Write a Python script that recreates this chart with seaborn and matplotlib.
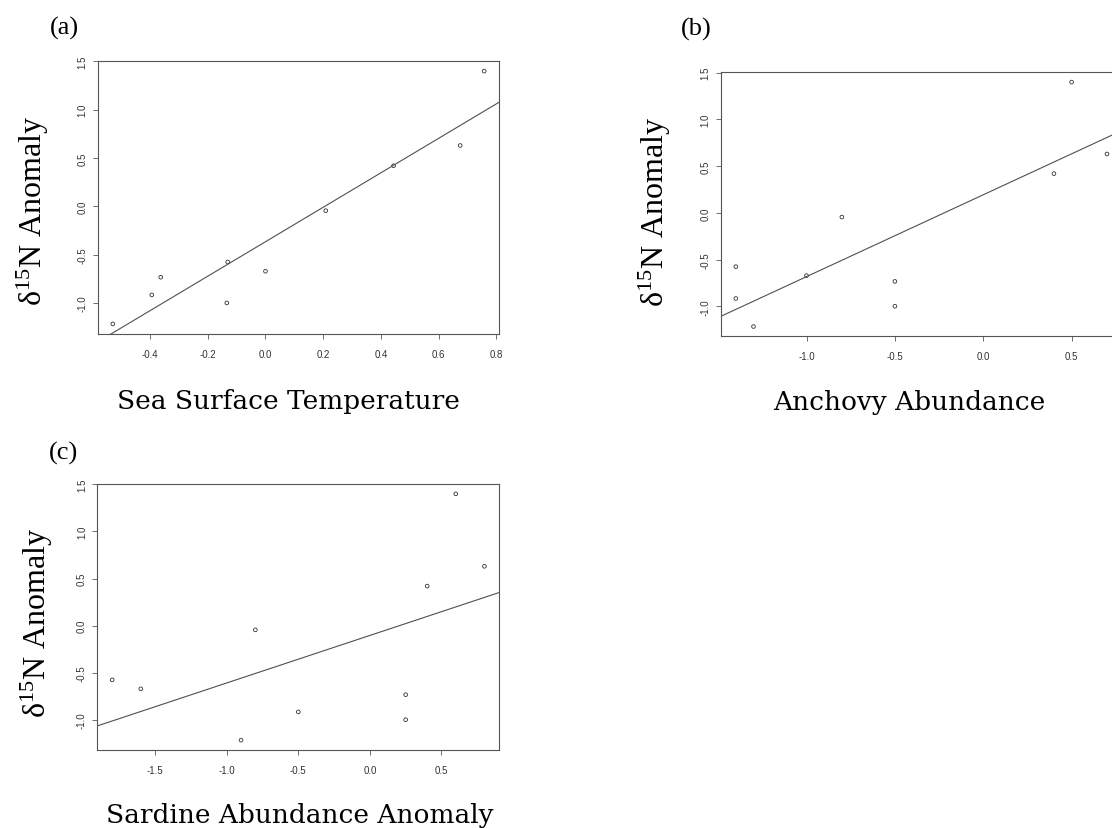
import numpy as np
import pandas as pd
import matplotlib
matplotlib.use("Agg")
import matplotlib.pyplot as plt
import seaborn as sns

# ---------------- data ----------------
d15n_anomaly = [1.40, 0.63, 0.42, -0.045, -0.672, -0.576, -1.00, -0.734, -0.917, -1.217]
sst = [0.758, 0.675, 0.444, 0.209, 0.0, -0.131, -0.134, -0.363, -0.394, -0.529]
anchovy = [0.5, 0.7, 0.4, -0.8, -1.0, -1.4, -0.5, -0.5, -1.4, -1.3]
sardine = [0.6, 0.8, 0.4, -0.8, -1.6, -1.8, 0.25, 0.25, -0.5, -0.9]

panel_letters = ["(a)", "(b)", "(c)"]
x_titles = ["Sea Surface Temperature", "Anchovy Abundance", "Sardine Abundance Anomaly"]
y_title = "δ$^{15}$N Anomaly"
x_ticks_a = [-0.4, -0.2, 0.0, 0.2, 0.4, 0.6, 0.8]
x_ticks_b = [-1.0, -0.5, 0.0, 0.5]
x_ticks_c = [-1.5, -1.0, -0.5, 0.0, 0.5]
y_ticks = [-1.0, -0.5, 0.0, 0.5, 1.0, 1.5]

# ---------------- style ----------------
sns.set_theme(style="white")
plt.rcParams["font.family"] = ["Liberation Sans", "DejaVu Sans"]
plt.rcParams["axes.unicode_minus"] = False
plt.rcParams["mathtext.fontset"] = "custom"
plt.rcParams["mathtext.rm"] = "Liberation Serif"
plt.rcParams["mathtext.it"] = "Liberation Serif:italic"
plt.rcParams["mathtext.default"] = "regular"

W, H = 1112, 829
fig = plt.figure(figsize=(W / 100, H / 100), dpi=100)
fig.patch.set_facecolor("white")


def r_range(v):
    lo, hi = min(v), max(v)
    pad = 0.04 * (hi - lo)
    return lo - pad, hi + pad


def px_axes(l, t, r, b):
    return fig.add_axes([l / W, 1 - b / H, (r - l) / W, (b - t) / H])


ink = "#333333"
frame = "#555555"


def panel(ax, x, xticks):
    ax.set_xlim(*r_range(x))
    ax.set_ylim(*r_range(d15n_anomaly))
    df = pd.DataFrame({"x": x, "y": d15n_anomaly})
    sns.regplot(data=df, x="x", y="y", ax=ax, ci=None, truncate=False,
                color=ink,
                scatter_kws=dict(facecolors="none", edgecolors=ink, s=7,
                                 linewidths=0.6, alpha=1),
                line_kws=dict(color="#505050", lw=0.8))
    ax.set_xlim(*r_range(x))
    ax.set_ylim(*r_range(d15n_anomaly))
    ax.set_xticks(xticks)
    ax.set_yticks(y_ticks)
    ax.set_xticklabels([f"{t:.1f}" for t in xticks])
    ax.set_yticklabels([f"{t:.1f}" for t in y_ticks], rotation=90, va="center")
    ax.set_xlabel("")
    ax.set_ylabel("")
    ax.tick_params(axis="both", direction="out", length=3.5, width=0.6,
                   color=frame, labelsize=7, labelcolor=ink)
    ax.tick_params(axis="x", pad=7, bottom=True)
    ax.tick_params(axis="y", pad=4, left=True)
    for s in ax.spines.values():
        s.set_color(frame)
        s.set_linewidth(0.8)
        s.set_visible(True)
    ax.grid(False)
    ax.set_facecolor("white")


ax_a = px_axes(98, 62, 499, 335)
panel(ax_a, sst, x_ticks_a)

ax_b = px_axes(721, 73.3, 1121.8, 337.3)
panel(ax_b, anchovy, x_ticks_b)

ax_c = px_axes(97.3, 485, 499.3, 751)
panel(ax_c, sardine, x_ticks_c)

serif_times = "Liberation Serif"
serif_label = "DejaVu Serif"

# panel letters
for txt, (cx, cy) in zip(panel_letters, [(64, 28), (696, 29), (64, 453)]):
    fig.text(cx / W, 1 - cy / H, txt, ha="center", va="center",
             fontsize=19, family=serif_times, color="black")

# y titles
for (cx, cy) in [(33, 211), (655, 212), (37, 623)]:
    fig.text(cx / W, 1 - cy / H, y_title, rotation=90, ha="center", va="center",
             fontsize=23, family=serif_times, color="black")

# x titles
fig.text(288 / W, 1 - 409 / H, x_titles[0], ha="center", va="baseline",
         fontsize=19, family=serif_label, color="black")
fig.text(773 / W, 1 - 410 / H, x_titles[1], ha="left", va="baseline",
         fontsize=19, family=serif_label, color="black")
fig.text(300 / W, 1 - 823 / H, x_titles[2], ha="center", va="baseline",
         fontsize=19, family=serif_label, color="black")

fig.savefig("out.png", dpi=100, facecolor="white")
